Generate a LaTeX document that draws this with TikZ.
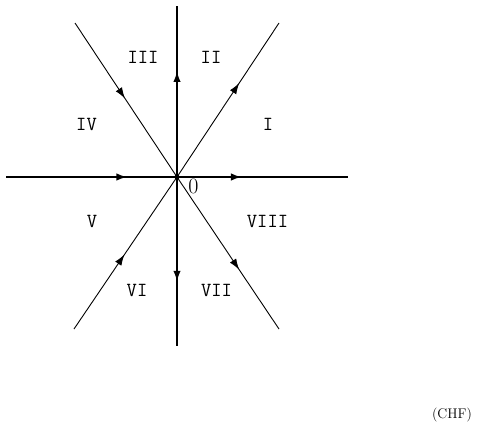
\documentclass[tikz,border=0pt]{standalone}
\usetikzlibrary{arrows.meta,decorations.markings}
\tikzset{
  axis/.style={line width=2.2pt},
  diag/.style={line width=0.9pt},
  arr/.style={postaction={decorate},decoration={markings,
      mark=at position #1 with {\arrow{Latex[length=11pt,width=7.5pt]}}}},
  region/.style={font=\fontsize{20}{24}\selectfont\ttfamily,inner sep=0pt,anchor=center},
}
\begin{document}
\begin{tikzpicture}[x=1pt,y=-1pt]
\useasboundingbox (0,0) rectangle (479,423);
\node[circle,fill,inner sep=0pt,minimum size=5pt] (O) at (177,177) {};
\coordinate (L) at (6,177);
\coordinate (R) at (348,177);
\coordinate (T) at (177,6);
\coordinate (B) at (177,346);
\coordinate (UR) at (279,23);
\coordinate (UL) at (75,23);
\coordinate (LL) at (74,329);
\coordinate (LR) at (279,329);
% axes
\draw[axis,arr=0.71] (L) -- (O.center);
\draw[axis,arr=0.38] (O.center) -- (R);
\draw[axis,arr=0.62] (O.center) -- (T);
\draw[axis,arr=0.62] (O.center) -- (B);
% diagonals
\draw[diag,arr=0.61] (O.center) -- (UR);
\draw[diag,arr=0.49] (UL) -- (O.center);
\draw[diag,arr=0.49] (LL) -- (O.center);
\draw[diag,arr=0.61] (O.center) -- (LR);
% labels
\node[region] (r1) at (268,124.5) {I};
\node[region] (r2) at (211,57.5) {II};
\node[region] (r3) at (143,57.5) {III};
\node[region] (r4) at (86.5,124.5) {IV};
\node[region] (r5) at (92,221.5) {V};
\node[region] (r6) at (137,290) {VI};
\node[region] (r7) at (216.5,290) {VII};
\node[region] (r8) at (267.5,221) {VIII};
\node[inner sep=0pt,font=\fontsize{22}{26}\selectfont] (zero) at (193.5,186.5) {0};
\node[inner sep=0pt,anchor=base,font=\fontsize{14}{17}\selectfont] (chf) at (452,418) {(CHF)};
\end{tikzpicture}
\end{document}
